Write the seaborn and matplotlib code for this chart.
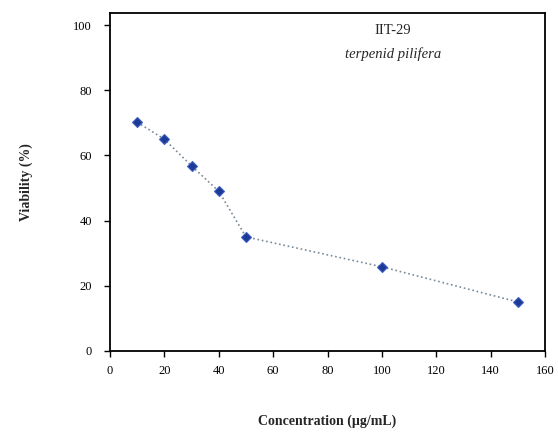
import pandas as pd
import matplotlib
matplotlib.use("Agg")
import matplotlib.pyplot as plt
import seaborn as sns

# Concentration (ug/mL) and cell viability (%)
concentration = [10, 20, 30, 40, 50, 100, 150]
viability = [70.2, 65.0, 56.8, 49.0, 35.0, 25.8, 15.0]

x_ticks = [0, 20, 40, 60, 80, 100, 120, 140, 160]
y_ticks = [0, 20, 40, 60, 80, 100]

sns.set_style("ticks")
plt.rcParams['font.family'] = ['Liberation Serif', 'DejaVu Serif']

df = pd.DataFrame({'conc': concentration, 'viab': viability})

fig = plt.figure(figsize=(5.58, 4.38), dpi=100)
ax = fig.add_axes([0.197, 0.199, 0.780, 0.771])

sns.lineplot(data=df, x='conc', y='viab', ax=ax, color='#7a8a99',
             linestyle=':', linewidth=1.2, marker='D', markersize=5,
             markerfacecolor='#1f3a93', markeredgecolor='#3a5fc8',
             markeredgewidth=0.8)

ax.set_xlim(0, 160)
ax.set_ylim(0, 103.7)
ax.set_xticks(x_ticks)
ax.set_yticks(y_ticks)
ax.tick_params(labelsize=9, direction='out', length=4, width=1, colors='black')
ax.tick_params(axis='y', pad=9)
ax.tick_params(axis='x', pad=6)

for s in ax.spines.values():
    s.set_visible(True)
    s.set_linewidth(1.3)
    s.set_color('black')

ax.set_xlabel('Concentration (µg/mL)', fontsize=10, fontweight='bold', labelpad=27)
ax.set_ylabel('Viability (%)', fontsize=10, fontweight='bold', labelpad=29)

ax.text(0.651, 0.95, 'IIT-29', transform=ax.transAxes, ha='center', va='center', fontsize=10.5)
ax.text(0.651, 0.88, 'terpenid pilifera', transform=ax.transAxes, ha='center', va='center',
        fontsize=10.5, style='italic')

fig.savefig('out.png', dpi=100)
